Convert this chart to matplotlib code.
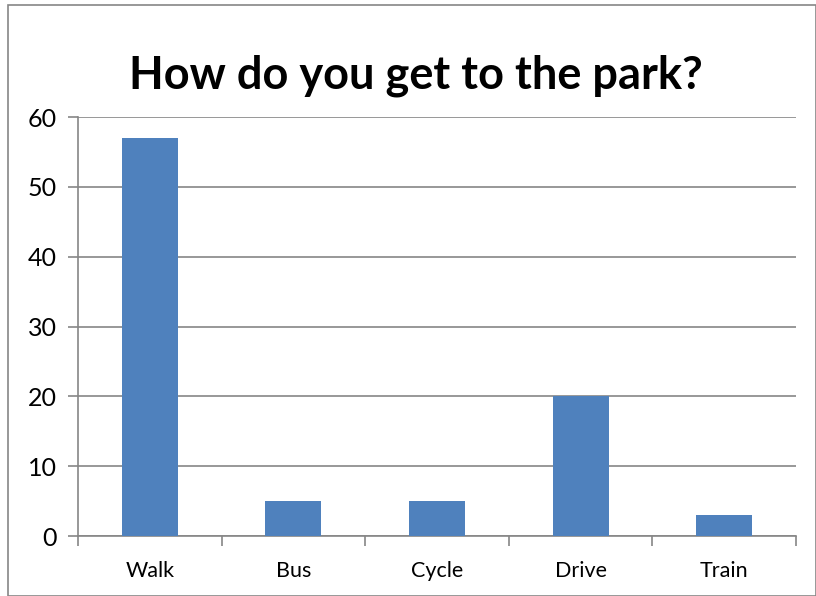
import numpy as np
import matplotlib.pyplot as plt
import matplotlib
from matplotlib.patches import Rectangle

matplotlib.rcParams['font.family'] = ['Lato', 'DejaVu Sans']

''' 数据 '''
modes = ['Walk', 'Bus', 'Cycle', 'Drive', 'Train']
counts = [57, 5, 5, 20, 3]
yTicks = [0, 10, 20, 30, 40, 50, 60]

barColor = '#4F81BD'
lineColor = '#868686'

fig = plt.figure(figsize=(8.16, 5.96), dpi=100)
ax = fig.add_axes([78/816, 1 - 536/596, (796 - 78)/816, (536 - 117)/596])

x = np.arange(len(modes))
ax.bar(x, counts, width=0.39, color=barColor, zorder=3)

ax.set_xlim(-0.5, len(modes) - 0.5)
ax.set_ylim(0, 60)
ax.set_yticks(yTicks)
ax.yaxis.grid(True, color=lineColor, linewidth=1.2, zorder=0)

# x刻度放在类别边界, 标签放在中间
ax.set_xticks(np.arange(-0.5, len(modes), 1))
ax.set_xticklabels([])
ax.set_xticks(x, minor=True)
ax.set_xticklabels(modes, minor=True, fontsize=15.5)
ax.tick_params(axis='x', which='minor', length=0, pad=18)
ax.tick_params(axis='x', which='major', length=7, width=1.2, color=lineColor)
ax.tick_params(axis='y', length=7, width=1.2, color=lineColor, labelsize=18, pad=8)

for side in ['top', 'right']:
    ax.spines[side].set_visible(False)
for side in ['left', 'bottom']:
    ax.spines[side].set_color(lineColor)
    ax.spines[side].set_linewidth(1.2)

fig.text(0.51, 1 - 76/596, 'How do you get to the park?', ha='center', va='center',
         fontsize=32.5, fontweight='bold')

# 外框
fig.patches.append(Rectangle((8/816, 0.5/596), 1 - 8.5/816, 1 - 5.5/596, transform=fig.transFigure,
                             fill=False, edgecolor=lineColor, linewidth=1.2))

fig.savefig('out.png', dpi=100)
